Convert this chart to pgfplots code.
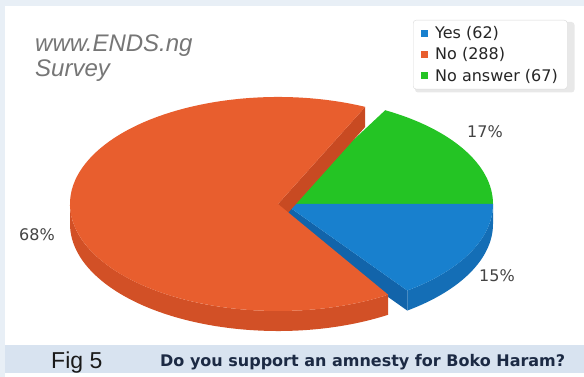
\documentclass[border=0pt]{standalone}
\usepackage{pgfplots}
\usepackage{pgfplotstable}
\pgfplotsset{compat=1.18}
\usepackage{fontspec}
\setmainfont{DejaVu Sans}
\newfontfamily\arialf{Liberation Sans}
\definecolor{redT}{RGB}{232,94,46}
\definecolor{redS}{RGB}{210,80,38}
\definecolor{redC}{RGB}{200,74,34}
\definecolor{grnT}{RGB}{36,196,36}
\definecolor{bluT}{RGB}{24,128,206}
\definecolor{bluS}{RGB}{20,110,182}
\definecolor{bluC}{RGB}{18,100,170}
\definecolor{band}{RGB}{216,227,240}
\definecolor{capc}{RGB}{28,42,68}
\definecolor{lblc}{RGB}{68,68,68}
\definecolor{wmc}{RGB}{118,118,118}
\definecolor{topc}{RGB}{232,239,246}
\pgfplotstableread{
label count pct
Yes 62 15
No 288 68
NoAnswer 67 17
}\piedata
\begin{document}
\begin{tikzpicture}
\pgfplotstablegetelem{0}{pct}\of\piedata \let\vYes\pgfplotsretval
\pgfplotstablegetelem{1}{pct}\of\piedata \let\vNo\pgfplotsretval
\pgfplotstablegetelem{2}{pct}\of\piedata \let\vNa\pgfplotsretval
\pgfmathsetmacro\gE{\vNa*3.6}
\pgfmathsetmacro\bS{-\vYes*3.6}
\pgfmathsetmacro\bSo{\bS+180}
\pgfmathsetmacro\rS{\gE+4}
\pgfmathsetmacro\rSo{\rS+180}
\pgfmathsetmacro\rE{\gE+\vNo*3.6-4}
\def\pcx{285}\def\pcy{173}
\def\prcx{278}
\begin{axis}[x=1pt,y=1pt,xmin=0,xmax=584,ymin=0,ymax=377,
  hide axis,clip=false,scale only axis,
  legend cell align=left,
  legend style={at={(axis cs:413,357)},anchor=north west,
    draw=gray!30,rounded corners=3pt,fill=white,
    font=\fontsize{16}{18}\selectfont,text=black!85,
    inner xsep=8pt,inner ysep=5pt,row sep=4.5pt,
    nodes={inner sep=1.5pt}}]
% background
\fill[white] (axis cs:0,0) rectangle (axis cs:584,377);
\fill[topc] (axis cs:0,371) rectangle (axis cs:584,377);
\fill[topc] (axis cs:0,0) rectangle (axis cs:5,377);
\fill[band] (axis cs:5,4) rectangle (axis cs:584,32);
% legend shadow
\fill[black,opacity=0.09,rounded corners=3pt] (axis cs:415,284.5) rectangle (axis cs:574.5,355);
% legend
\addlegendimage{legend image code/.code={\path[draw=none,fill=none] (0pt,0pt) rectangle (12.5pt,0.1pt);\fill[bluT,draw=none,sharp corners] (0pt,-3.5pt) rectangle (7pt,3.5pt);}}
\addlegendentry{Yes (62)}
\addlegendimage{legend image code/.code={\path[draw=none,fill=none] (0pt,0pt) rectangle (12.5pt,0.1pt);\fill[redT,draw=none,sharp corners] (0pt,-3.5pt) rectangle (7pt,3.5pt);}}
\addlegendentry{No (288)}
\addlegendimage{legend image code/.code={\path[draw=none,fill=none] (0pt,0pt) rectangle (12.5pt,0.1pt);\fill[grnT,draw=none,sharp corners] (0pt,-3.5pt) rectangle (7pt,3.5pt);}}
\addlegendentry{No answer (67)\hspace{6pt}}
% green slice (No answer)
\fill[grnT] (axis cs:\pcx,\pcy) -- ++(0:208pt and 107pt)
  arc[start angle=0,end angle=\gE,x radius=208pt,y radius=107pt] -- cycle;
% blue slice (Yes)
\fill[bluS] (axis cs:\pcx,\pcy) ++(\bS:208pt and 107pt)
  arc[start angle=\bS,end angle=0,x radius=208pt,y radius=107pt]
  -- ++(0pt,-20pt)
  arc[start angle=0,end angle=\bS,x radius=208pt,y radius=107pt] -- cycle;
\fill[bluC] (axis cs:\pcx,\pcy) -- ++(\bS:208pt and 107pt) -- ++(0pt,-20pt)
  -- ++(\bSo:208pt and 107pt) -- cycle;
\fill[bluT] (axis cs:\pcx,\pcy) -- ++(\bS:208pt and 107pt)
  arc[start angle=\bS,end angle=0,x radius=208pt,y radius=107pt] -- cycle;
% red slice (No)
\fill[redS] (axis cs:\prcx,\pcy) ++(180:208pt and 107pt)
  arc[start angle=180,end angle=\rE,x radius=208pt,y radius=107pt]
  -- ++(0pt,-20pt)
  arc[start angle=\rE,end angle=180,x radius=208pt,y radius=107pt] -- cycle;
\fill[redC] (axis cs:\prcx,\pcy) -- ++(\rS:208pt and 107pt) -- ++(0pt,-20pt)
  -- ++(\rSo:208pt and 107pt) -- cycle;
\fill[redT] (axis cs:\prcx,\pcy) -- ++(\rS:208pt and 107pt)
  arc[start angle=\rS,end angle=\rE,x radius=208pt,y radius=107pt] -- cycle;
% percentage labels
\node[font=\fontsize{16}{18}\selectfont,text=lblc] at (axis cs:485,245) {17\%};
\node[font=\fontsize{16}{18}\selectfont,text=lblc] at (axis cs:497,101) {15\%};
\node[font=\fontsize{16}{18}\selectfont,text=lblc] at (axis cs:37,142) {68\%};
% watermark
\node[anchor=base west,inner sep=0pt,font=\arialf\itshape\fontsize{24}{26}\selectfont,text=wmc] at (axis cs:35,325) {www.ENDS.ng};
\node[anchor=base west,inner sep=0pt,font=\arialf\itshape\fontsize{24}{26}\selectfont,text=wmc] at (axis cs:35,300) {Survey};
% caption band
\node[anchor=base west,inner sep=0pt,font=\arialf\fontsize{23}{25}\selectfont,text=black!90] at (axis cs:51,8) {Fig 5};
\node[anchor=base west,inner sep=0pt,font=\bfseries\fontsize{16}{18}\selectfont,text=capc] at (axis cs:160,10) {Do you support an amnesty for Boko Haram?};
\end{axis}
\end{tikzpicture}
\end{document}
